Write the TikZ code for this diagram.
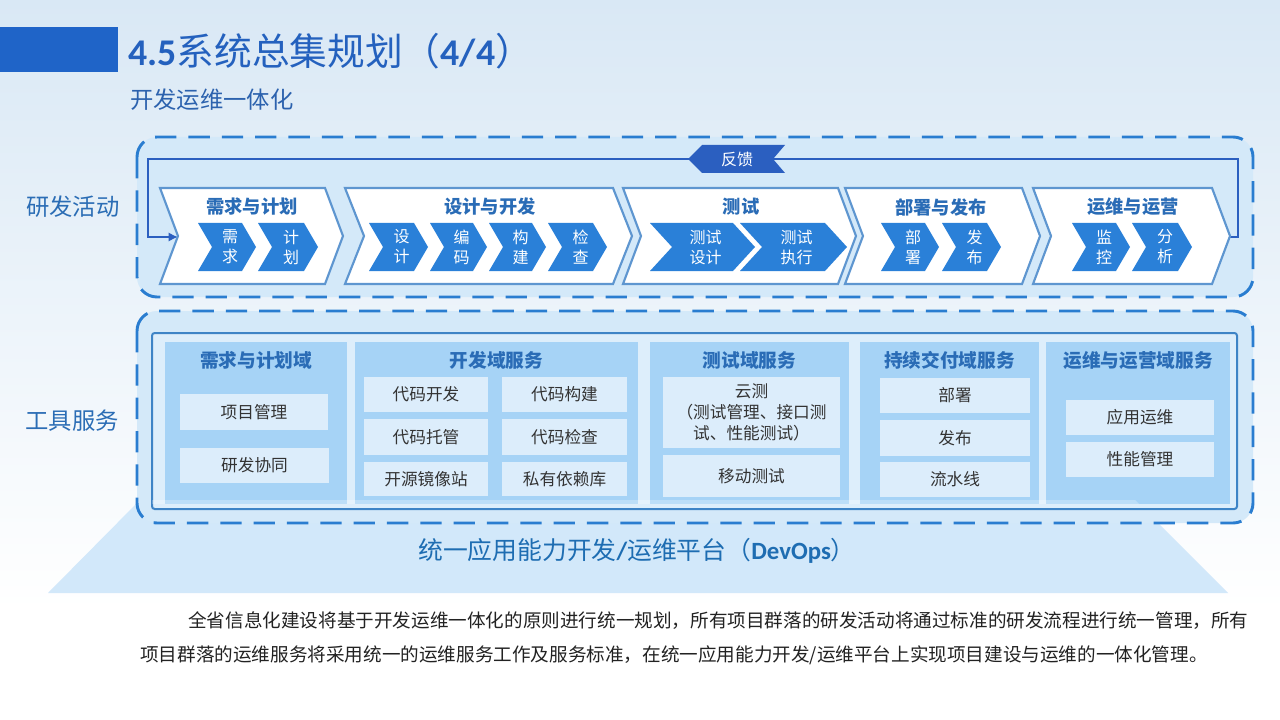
\documentclass[tikz,border=0pt]{standalone}
\usepackage{fontspec}
\setmainfont{Noto Sans CJK SC}
\newfontfamily\latb{Carlito}
\usetikzlibrary{arrows.meta}
\definecolor{bgtop}{HTML}{D9E8F5}
\definecolor{barblue}{HTML}{1F64C8}
\definecolor{titleblue}{HTML}{2461BE}
\definecolor{subblue}{HTML}{2C62AE}
\definecolor{labelblue}{HTML}{2B6DB5}
\definecolor{dashblue}{HTML}{2A7DD0}
\definecolor{boxfill}{HTML}{D4E9F9}
\definecolor{fbblue}{HTML}{2B5FC0}
\definecolor{chevfill}{HTML}{2A80D8}
\definecolor{chevborder}{HTML}{5E96D0}
\definecolor{cheadblue}{HTML}{2A6CB6}
\definecolor{colfill}{HTML}{A6D3F6}
\definecolor{itemfill}{HTML}{DCEDFB}
\definecolor{innerborder}{HTML}{3E84C6}
\definecolor{innerfill}{HTML}{DDEEFB}
\definecolor{trapfill}{HTML}{D2E8FA}
\definecolor{devblue}{HTML}{1E6DB2}
\definecolor{paratext}{HTML}{222222}

\newcommand\mychev[6]{\path[#1] (#2,#3) -- (#4,#3) -- (#5,{(#3+#6)/2}) -- (#4,#6) -- (#2,#6) -- ({#2+#5-#4},{(#3+#6)/2}) -- cycle;}
\newcommand\smchev[5]{\mychev{smallchev}{#2}{223}{#3}{#4}{271}
  \node[smtext] (#1) at ({(#2+#4)/2+3},247) {#5};}
\newcommand\ibox[6]{\node[itm,minimum width={0.75pt*(#4-#2)},minimum height={0.75pt*(#5-#3)}] (#1) at ({(#2+#4)/2},{(#3+#5)/2}) {#6};}
\newcommand\colbox[6]{\node[colb,minimum width={0.75pt*(#4-#2)},minimum height={0.75pt*(#5-#3)}] (#1) at ({(#2+#4)/2},{(#3+#5)/2}) {};
  \node[coltitle] (#1t) at ({(#2+#4)/2},360) {#6};}

\begin{document}
\begin{tikzpicture}[x=0.75pt,y=-0.75pt,
  dashbox/.style={draw=dashblue,line width=2.2pt,dash pattern=on 16pt off 9pt,rounded corners=15pt,fill=boxfill},
  bigchev/.style={draw=chevborder,line width=1.6pt,fill=white,line join=miter},
  smallchev/.style={fill=chevfill},
  smtext/.style={inner sep=0,align=center,text=white,font=\fontsize{12}{15}\selectfont},
  chtitle/.style={inner sep=0,text=cheadblue,font=\fontsize{13.7}{16}\selectfont\bfseries},
  sidelabel/.style={inner sep=0,text=labelblue,font=\fontsize{17.5}{20}\selectfont},
  fbline/.style={draw=fbblue,line width=2.2pt},
  colb/.style={fill=colfill,inner sep=0},
  coltitle/.style={inner sep=0,text=cheadblue,font=\fontsize{14}{16}\selectfont\bfseries},
  itm/.style={fill=itemfill,inner sep=0,align=center,text=black!80,font=\fontsize{12.5}{15.8}\selectfont},
  para/.style={anchor=west,inner sep=0,text=paratext,font=\fontsize{13.95}{16}\selectfont}]
\useasboundingbox (0,0) rectangle (1280,720);
% background
\shade[top color=bgtop,bottom color=white] (0,0) rectangle (1280,610);
\fill[white] (0,610) rectangle (1280,720);
% title
\fill[barblue] (0,27) rectangle (118,72);
\node[anchor=west,inner sep=0,text=titleblue,font=\fontsize{28.3}{32}\selectfont] (title) at (128,51) {{\latb\bfseries 4.5}系统总集规划（{\latb\bfseries 4/4}）};
\node[anchor=west,inner sep=0,text=subblue,font=\fontsize{17.5}{20}\selectfont] (subtitle) at (130,100) {开发运维一体化};
% trapezoid
\fill[trapfill] (140,500) -- (1135,500) -- (1228,593) -- (48,593) -- cycle;
% dashed boxes
\path[dashbox] (137,137) rectangle (1253,297);
\path[dashbox] (137,311) rectangle (1253,523);
\node[sidelabel] (lab1) at (73,207) {研发活动};
\node[sidelabel] (lab2) at (72,421) {工具服务};
% feedback line
\coordinate (ch5tip) at (1230,237);
\coordinate (fbTR) at (1238,159);
\coordinate (fbTL) at (148,159);
\coordinate (ch1notch) at (178,237);
\draw[fbline,line join=miter,-{Latex[length=7pt,width=7pt]}] (ch5tip) -| (fbTR) -- (fbTL) |- (ch1notch);
\fill[fbblue] (688,159) -- (702,145) -- (785,145) -- (773,159) -- (785,173) -- (702,173) -- cycle;
\node[inner sep=0,text=white,font=\fontsize{12}{14}\selectfont] (fb) at (737,159) {反馈};
% big chevrons
\mychev{bigchev}{160}{188}{325}{343}{284}
\mychev{bigchev}{345}{188}{613}{632}{284}
\mychev{bigchev}{623}{188}{838}{856}{284}
\mychev{bigchev}{845}{188}{1022}{1040}{284}
\mychev{bigchev}{1033}{188}{1212}{1230}{284}
\node[chtitle] (h1) at (252,207) {需求与计划};
\node[chtitle] (h2) at (490,207) {设计与开发};
\node[chtitle] (h3) at (741,207) {测试};
\node[chtitle] (h4) at (941,207) {部署与发布};
\node[chtitle] (h5) at (1133,207) {运维与运营};
% small chevrons
\smchev{s1}{198}{242}{256}{需\\求}
\smchev{s2}{258}{304}{318}{计\\划}
\smchev{s3}{369}{414}{428}{设\\计}
\smchev{s4}{430}{473}{487}{编\\码}
\smchev{s5}{489}{532}{546}{构\\建}
\smchev{s6}{548}{593}{607}{检\\查}
\smchev{s7}{650}{733}{755}{测试\\设计}
\smchev{s8}{740}{825}{847}{测试\\执行}
\smchev{s9}{881}{925}{939}{部\\署}
\smchev{s10}{942}{987}{1001}{发\\布}
\smchev{s11}{1072}{1116}{1130}{监\\控}
\smchev{s12}{1132}{1178}{1192}{分\\析}
% tool services
\draw[draw=innerborder,line width=1.5pt,fill=innerfill,rounded corners=2pt] (152,333) rectangle (1237,509);
\colbox{c1}{165}{342}{347}{504}{需求与计划域}
\colbox{c2}{355}{342}{638}{504}{开发域服务}
\colbox{c3}{650}{342}{849}{504}{测试域服务}
\colbox{c4}{860}{342}{1039}{504}{持续交付域服务}
\colbox{c5}{1046}{342}{1230}{504}{运维与运营域服务}
\ibox{pm}{180}{394}{328}{430}{项目管理}
\ibox{rd}{180}{448}{329}{483}{研发协同}
\ibox{d1}{364}{377}{488}{412}{代码开发}
\ibox{d2}{502}{377}{627}{412}{代码构建}
\ibox{d3}{364}{419}{488}{455}{代码托管}
\ibox{d4}{502}{419}{627}{455}{代码检查}
\ibox{d5}{364}{462}{488}{496}{开源镜像站}
\ibox{d6}{502}{462}{627}{496}{私有依赖库}
\ibox{t1}{663}{377}{840}{448}{云测\\（测试管理、接口测\\试、性能测试）}
\ibox{t2}{663}{455}{840}{497}{移动测试}
\ibox{p1}{880}{378}{1030}{413}{部署}
\ibox{p2}{880}{420}{1030}{456}{发布}
\ibox{p3}{880}{462}{1030}{497}{流水线}
\ibox{o1}{1066}{400}{1214}{435}{应用运维}
\ibox{o2}{1066}{442}{1214}{477}{性能管理}
\fill[white,opacity=0.25] (152,500) -- (1135,500) -- (1139,504) -- (152,504) -- cycle;
% platform label
\node[inner sep=0,text=devblue,font=\fontsize{18.6}{22}\selectfont] (plat) at (637,551) {统一应用能力开发{\latb\bfseries /}运维平台（{\latb\bfseries DevOps}）};
% paragraph
\node[para] (p1) at (188,621) {全省信息化建设将基于开发运维一体化的原则进行统一规划，所有项目群落的研发活动将通过标准的研发流程进行统一管理，所有};
\node[para] (p2) at (140,655) {项目群落的运维服务将采用统一的运维服务工作及服务标准，在统一应用能力开发/运维平台上实现项目建设与运维的一体化管理。};
\end{tikzpicture}
\end{document}
